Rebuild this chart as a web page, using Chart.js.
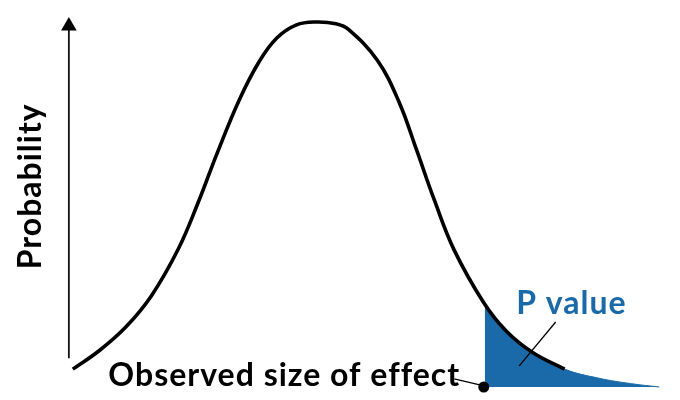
<!DOCTYPE html>
<html>
<head>
<meta charset="utf-8">
<script src="https://cdn.jsdelivr.net/npm/chart.js@4.4.1/dist/chart.umd.min.js"></script>
<style>
  html, body { margin: 0; padding: 0; background: #fff; }
  #wrap { width: 680px; height: 400px; position: relative; }
</style>
</head>
<body>
<div id="wrap"><canvas id="pChart"></canvas></div>
<script>
// bell curve (effect size in SD units, relative probability)
const curveX = [-2.47, -2.20, -1.93, -1.67, -1.40, -1.20, -1.00, -0.78, -0.58, -0.40, -0.20, 0.00,
                0.20, 0.33, 0.62, 0.84, 1.02, 1.20, 1.40, 1.70, 1.93, 2.20, 2.52];
const curveY = [0.049, 0.100, 0.165, 0.251, 0.378, 0.504, 0.644, 0.787, 0.891, 0.956, 0.992, 1.000,
                0.995, 0.979, 0.895, 0.781, 0.648, 0.511, 0.375, 0.231, 0.153, 0.094, 0.049];

// shaded tail beyond the observed effect = P value
const tailX = [1.71, 1.93, 2.20, 2.52, 2.87, 3.20, 3.48];
const tailY = [0.228, 0.153, 0.094, 0.049, 0.024, 0.009, 0.000];

const observedEffect = 1.70;

// y axis arrow (x position, bottom, top)
const axisX = -2.51;
const axisY = [0.079, 0.989];

// leader lines for the two labels
const observedLeader = [[1.40, 0.022], [1.67, 0.005]];
const pLeader = [[2.43, 0.178], [2.06, 0.058]];

const BLUE = '#1a6aa9';
const FONT = "bold 32px Lato, 'Open Sans', sans-serif";

const toPts = (xs, ys) => xs.map((x, i) => ({ x: x, y: ys[i] }));
const pairPts = (arr) => arr.map(p => ({ x: p[0], y: p[1] }));

// labels drawn on top, placed through the scales
const labelPlugin = {
    id: 'labels',
    afterDatasetsDraw(chart) {
        const { ctx, scales: { x, y } } = chart;
        ctx.save();
        ctx.font = FONT;
        ctx.letterSpacing = '1px';
        ctx.textBaseline = 'alphabetic';

        ctx.fillStyle = '#000';
        ctx.textAlign = 'right';
        ctx.fillText('Observed size of effect', x.getPixelForValue(1.46), y.getPixelForValue(0.003));

        ctx.fillStyle = BLUE;
        ctx.textAlign = 'left';
        ctx.fillText('P value', x.getPixelForValue(2.03), y.getPixelForValue(0.200));

        // rotated axis title
        ctx.fillStyle = '#000';
        ctx.textAlign = 'center';
        ctx.translate(x.getPixelForValue(-2.79), y.getPixelForValue(0.550));
        ctx.rotate(-Math.PI / 2);
        ctx.fillText('Probability', 0, 0);
        ctx.restore();
    }
};

new Chart(document.getElementById('pChart'), {
    type: 'line',
    data: {
        datasets: [
            {
                // observed effect marker
                type: 'scatter',
                data: [{ x: observedEffect, y: 0 }],
                pointRadius: 5.5,
                pointBackgroundColor: '#000',
                pointBorderWidth: 0,
                clip: false,
                order: 0
            },
            {
                data: pairPts(observedLeader),
                borderColor: '#000',
                borderWidth: 1.3,
                pointRadius: 0,
                clip: false,
                order: 1
            },
            {
                data: pairPts(pLeader),
                borderColor: '#000',
                borderWidth: 1.3,
                pointRadius: 0,
                clip: false,
                order: 1
            },
            {
                // the distribution
                data: toPts(curveX, curveY),
                borderColor: '#000',
                borderWidth: 3.6,
                borderCapStyle: 'butt',
                tension: 0.4,
                pointRadius: 0,
                fill: false,
                clip: false,
                order: 2
            },
            {
                data: toPts(tailX, tailY),
                borderColor: BLUE,
                borderWidth: 1,
                backgroundColor: BLUE,
                tension: 0.4,
                pointRadius: 0,
                fill: 'origin',
                clip: false,
                order: 3
            },
            {
                // y axis arrow
                data: axisY.map(v => ({ x: axisX, y: v })),
                borderColor: '#111',
                borderWidth: 1.8,
                pointStyle: 'triangle',
                pointRadius: [0, 9],
                pointBackgroundColor: '#000',
                pointBorderWidth: 0,
                clip: false,
                order: 4
            }
        ]
    },
    options: {
        responsive: true,
        maintainAspectRatio: false,
        animation: false,
        events: [],
        elements: { line: { capBezierPoints: false } },
        layout: { padding: { left: 60, right: 0, top: 22, bottom: 13 } },
        plugins: {
            legend: { display: false },
            tooltip: { enabled: false }
        },
        scales: {
            x: { type: 'linear', min: -2.6, max: 3.6, display: false },
            y: { type: 'linear', min: 0, max: 1, display: false }
        }
    },
    plugins: [labelPlugin]
});
</script>
</body>
</html>
